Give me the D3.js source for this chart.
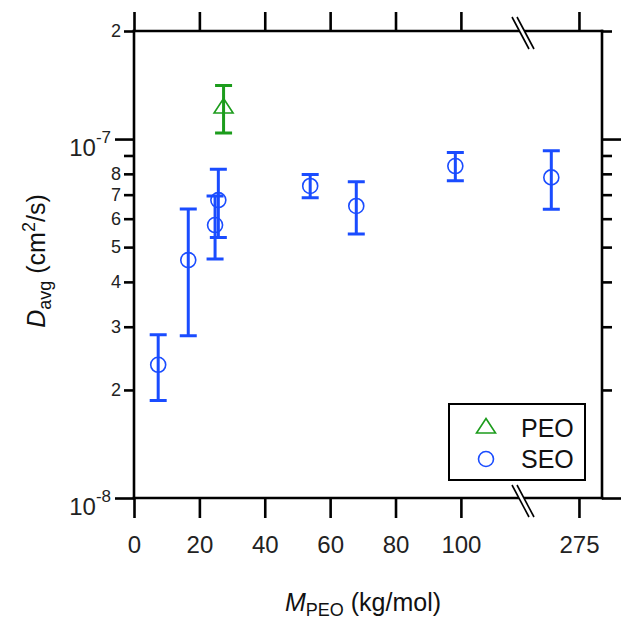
<!DOCTYPE html>
<html>
<head>
<meta charset="utf-8">
<script src="https://cdn.jsdelivr.net/npm/d3@7"></script>
<style>
  body { margin: 0; background: #fff; }
  svg { font-family: "Liberation Sans", Arial, sans-serif; }
</style>
</head>
<body>
<script>
// data (M in kg/mol, D in cm^2/s)
const seoM  = [7.4, 16.6, 24.8, 25.8, 53.9, 68.0, 98.3, 266.6];
const seoD  = [2.35e-8, 4.60e-8, 5.76e-8, 6.76e-8, 7.40e-8, 6.51e-8, 8.41e-8, 7.82e-8];
const seoLo = [1.87e-8, 2.83e-8, 4.63e-8, 5.32e-8, 6.86e-8, 5.44e-8, 7.65e-8, 6.37e-8];
const seoHi = [2.85e-8, 6.38e-8, 6.94e-8, 8.24e-8, 7.97e-8, 7.60e-8, 9.18e-8, 9.28e-8];

const peoM  = [27.4];
const peoD  = [1.22e-7];
const peoLo = [1.04e-7];
const peoHi = [1.41e-7];

const xTicks = [0, 20, 40, 60, 80, 100, 275];
const yMajor = [1e-8, 1e-7];
const yMajorExp = ["-8", "-7"];
const yMinor = [2e-8, 3e-8, 4e-8, 5e-8, 6e-8, 7e-8, 8e-8, 9e-8, 2e-7];
const yMinorLabels = ["2", "3", "4", "5", "6", "7", "8", "", "2"];
const legendNames = ["PEO", "SEO"];

const W = 624, H = 621;
const pLeft = 134, pRight = 602, pTop = 31, pBottom = 498;
const breakLo = 119, breakHi = 258, xMax = 282;
const blue = "#1a4cff", green = "#1c9c1c";

const svg = d3.select("body").append("svg").attr("width", W).attr("height", H);

// broken x axis: two linear pieces joined at the break
let x = d3.scaleLinear().domain([0, breakLo, breakHi, xMax]).range([pLeft, 523, 523, pRight]);
let y = d3.scaleLog().domain([1e-8, 2e-7]).range([pBottom, pTop]);

function styleAxis(g) {
    g.select(".domain").remove();
    g.selectAll(".tick line").attr("stroke", "#000").attr("stroke-width", 2.6);
    g.selectAll(".tick text").attr("fill", "#222");
}

// left axis
svg.append("g").attr("transform", `translate(${pLeft},0)`)
    .call(d3.axisLeft(y).tickValues(yMinor).tickSize(10).tickPadding(3)
        .tickFormat((d, i) => yMinorLabels[i]))
    .call(styleAxis)
    .call(g => g.selectAll(".tick text").attr("font-size", 18).attr("font-family", null));
svg.append("g").attr("transform", `translate(${pLeft},0)`)
    .call(d3.axisLeft(y).tickValues(yMajor).tickSize(19).tickPadding(4).tickFormat(""))
    .call(styleAxis)
    .call(g => g.selectAll(".tick text").each(function(d, i) {
        const t = d3.select(this).attr("font-family", null).attr("dy", null).attr("y", 16);
        t.append("tspan").attr("font-size", 24).text("10");
        t.append("tspan").attr("font-size", 17).attr("dy", -13).text(yMajorExp[i]);
    }));

// right axis
svg.append("g").attr("transform", `translate(${pRight},0)`)
    .call(d3.axisRight(y).tickValues(yMinor).tickSize(10).tickFormat(""))
    .call(styleAxis);
svg.append("g").attr("transform", `translate(${pRight},0)`)
    .call(d3.axisRight(y).tickValues(yMajor).tickSize(19).tickFormat(""))
    .call(styleAxis);

// top and bottom axes
svg.append("g").attr("transform", `translate(0,${pTop})`)
    .call(d3.axisTop(x).tickValues(xTicks).tickSize(19).tickFormat(""))
    .call(styleAxis);
svg.append("g").attr("transform", `translate(0,${pBottom})`)
    .call(d3.axisBottom(x).tickValues(xTicks).tickSize(20).tickPadding(18).tickFormat(d3.format("d")))
    .call(styleAxis)
    .call(g => g.selectAll(".tick text").attr("font-size", 24).attr("font-family", null));

// frame
const frame = svg.append("g").attr("stroke", "#000").attr("stroke-width", 2.6).attr("stroke-linecap", "square");
frame.append("line").attr("x1", pLeft).attr("x2", pLeft).attr("y1", pTop).attr("y2", pBottom);
frame.append("line").attr("x1", pRight).attr("x2", pRight).attr("y1", pTop).attr("y2", pBottom);
frame.append("line").attr("x1", pLeft).attr("x2", pRight).attr("y1", pTop).attr("y2", pTop);
frame.append("line").attr("x1", pLeft).attr("x2", pRight).attr("y1", pBottom).attr("y2", pBottom);

// axis break marks
[pTop + 2, pBottom + 3].forEach(yy => {
    const bx = x(breakLo);
    const g = svg.append("g");
    g.append("path")
        .attr("d", `M${bx - 11},${yy - 16}L${bx + 6},${yy + 16}L${bx + 11},${yy + 16}L${bx - 6},${yy - 16}Z`)
        .attr("fill", "#fff");
    [-2.5, 2.5].forEach(o => {
        g.append("line")
            .attr("x1", bx + o - 8.5).attr("y1", yy - 16)
            .attr("x2", bx + o + 8.5).attr("y2", yy + 16)
            .attr("stroke", "#000").attr("stroke-width", 1.6);
    });
});

// error bars and markers
function drawSeries(M, D, lo, hi, color, marker) {
    const g = svg.append("g");
    const pts = M.map((m, i) => ({ m: m, d: D[i], lo: lo[i], hi: hi[i] }));
    g.selectAll(".err").data(pts).enter().append("path")
        .attr("d", p => {
            const cx = x(p.m), y1 = y(p.hi), y2 = y(p.lo);
            return `M${cx},${y1}V${y2}M${cx - 8.5},${y1}H${cx + 8.5}M${cx - 8.5},${y2}H${cx + 8.5}`;
        })
        .attr("fill", "none").attr("stroke", color).attr("stroke-width", 3);
    g.selectAll(".mk").data(pts).enter().append("path")
        .attr("transform", p => `translate(${x(p.m)},${y(p.d)})`)
        .attr("d", marker)
        .attr("fill", "none").attr("stroke", color).attr("stroke-width", 1.6);
}
const circlePath = "M7.5,0A7.5,7.5 0 1,1 -7.5,0A7.5,7.5 0 1,1 7.5,0Z";
const trianglePath = "M0,-9.5L9.5,5L-9.5,5Z";

drawSeries(seoM, seoD, seoLo, seoHi, blue, circlePath);
drawSeries(peoM, peoD, peoLo, peoHi, green, trianglePath);

// legend
const lg = svg.append("g");
lg.append("rect").attr("x", 449).attr("y", 404).attr("width", 136).attr("height", 76)
    .attr("fill", "#fff").attr("stroke", "#000").attr("stroke-width", 2);
const legendColors = [green, blue], legendMarks = [trianglePath, circlePath];
legendNames.forEach((n, i) => {
    const yy = 428 + i * 31;
    lg.append("path").attr("transform", `translate(486,${yy})`).attr("d", legendMarks[i])
        .attr("fill", "none").attr("stroke", legendColors[i]).attr("stroke-width", 1.6);
    lg.append("text").attr("x", 521).attr("y", yy + 9).attr("font-size", 25).attr("fill", "#111").text(n);
});

// axis titles
const xt = svg.append("text").attr("x", 363).attr("y", 611).attr("text-anchor", "middle")
    .attr("font-size", 25).attr("fill", "#111");
xt.append("tspan").attr("font-style", "italic").text("M");
xt.append("tspan").attr("font-size", 18).attr("dy", 5).text("PEO");
xt.append("tspan").attr("dy", -5).text(" (kg/mol)");

const yt = svg.append("text").attr("transform", "translate(45,261) rotate(-90)")
    .attr("text-anchor", "middle").attr("font-size", 25).attr("fill", "#111");
yt.append("tspan").attr("font-style", "italic").text("D");
yt.append("tspan").attr("font-size", 18).attr("dy", 6).text("avg");
yt.append("tspan").attr("dy", -6).text(" (cm");
yt.append("tspan").attr("font-size", 18).attr("dy", -10).text("2");
yt.append("tspan").attr("dy", 10).text("/s)");
</script>
</body>
</html>
